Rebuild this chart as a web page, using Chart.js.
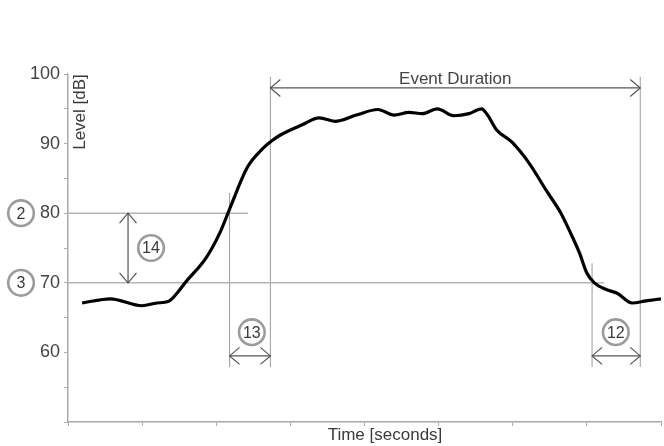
<!DOCTYPE html>
<html>
<head>
<meta charset="utf-8">
<script src="https://cdn.jsdelivr.net/npm/chart.js@4.4.0/dist/chart.umd.min.js"></script>
<style>
  html, body { margin: 0; padding: 0; background: #fff; }
  canvas { display: block; }
</style>
</head>
<body>
<canvas id="myChart" width="664" height="446"></canvas>
<script>
// sound level over time (seconds, dB)
const times = [0.19, 0.57, 1.0, 1.2, 1.35, 1.47, 1.58, 1.87, 2.05, 2.18, 2.42, 2.61, 2.75, 2.86, 3.16, 3.39, 3.6, 3.89, 4.18, 4.4, 4.6, 4.78, 4.98, 5.21, 5.41, 5.58, 5.66, 5.78, 5.99, 6.22, 6.45, 6.65, 6.76, 6.9, 7.0, 7.1, 7.27, 7.41, 7.61, 7.8, 8.0];
const levels = [67.1, 67.7, 66.7, 67.1, 67.3, 68.5, 70.0, 73.7, 77.2, 80.6, 86.6, 89.1, 90.4, 91.2, 92.7, 93.7, 93.2, 94.1, 94.9, 94.1, 94.5, 94.3, 95.0, 94.0, 94.3, 95.0, 94.1, 92.0, 90.2, 87.2, 83.3, 80.0, 77.6, 74.3, 71.4, 70.0, 69.0, 68.5, 67.1, 67.4, 67.7];

const yTicks = [60, 70, 80, 90, 100];

// threshold lines: level, end time
const thresholds = [80, 70];
const thresholdEnds = [2.43, 7.23];
const thresholdTags = ['2', '3'];

// crossing markers: time, top level
const markTimes = [2.18, 2.73, 7.07, 7.72];
const markTops = [82.9, 99.6, 72.8, 99.6];
const markBottom = 57.9;

// event duration arrow
const durationLevel = 98.0;
const durationLabel = 'Event Duration';

// numbered callouts: label, time, level
const calloutLabels = ['14', '13', '12'];
const calloutTimes = [1.12, 2.48, 7.39];
const calloutLevels = [75.0, 62.9, 62.9];
const rangeArrowTime = 0.81;
const spanArrowLevel = 59.5;

const lineSets = [];
lineSets.push({
    data: times.map((t, i) => ({ x: t, y: levels[i] })),
    borderColor: '#000',
    borderWidth: 3.2,
    pointRadius: 0,
    cubicInterpolationMode: 'monotone',
    fill: false
});
thresholds.forEach((lv, i) => {
    lineSets.push({
        data: [{ x: 0, y: lv }, { x: thresholdEnds[i], y: lv }],
        borderColor: '#b4b4b4',
        borderWidth: 1.5,
        pointRadius: 0
    });
});
markTimes.forEach((t, i) => {
    lineSets.push({
        data: [{ x: t, y: markBottom }, { x: t, y: markTops[i] }],
        borderColor: '#9a9aa2',
        borderWidth: 1,
        pointRadius: 0
    });
});

const FONT = "'Liberation Sans', Arial, sans-serif";

function arrowHead(ctx, x, y, dx, dy) {
    // open V head pointing in direction (dx, dy)
    const len = 10, half = 8.5;
    const px = -dy, py = dx;
    ctx.beginPath();
    ctx.moveTo(x - dx * len + px * half, y - dy * len + py * half);
    ctx.lineTo(x, y);
    ctx.lineTo(x - dx * len - px * half, y - dy * len - py * half);
    ctx.stroke();
}

function circleTag(ctx, x, y, txt) {
    ctx.save();
    ctx.beginPath();
    ctx.arc(x, y, 12.8, 0, Math.PI * 2);
    ctx.fillStyle = '#fff';
    ctx.fill();
    ctx.lineWidth = 2.6;
    ctx.strokeStyle = '#9b9b9b';
    ctx.stroke();
    ctx.fillStyle = '#3a3a3a';
    ctx.font = '16px ' + FONT;
    ctx.textAlign = 'center';
    ctx.textBaseline = 'middle';
    ctx.fillText(txt, x, y + 1);
    ctx.restore();
}

const annotations = {
    id: 'annotations',
    afterDatasetsDraw(chart) {
        const ctx = chart.ctx;
        const xs = chart.scales.x, ys = chart.scales.y;
        ctx.save();
        ctx.strokeStyle = '#555';
        ctx.lineWidth = 1.2;

        // event duration
        const dy = ys.getPixelForValue(durationLevel);
        const dx1 = xs.getPixelForValue(markTimes[1]);
        const dx2 = xs.getPixelForValue(markTimes[3]);
        ctx.beginPath();
        ctx.moveTo(dx1, dy);
        ctx.lineTo(dx2, dy);
        ctx.stroke();
        arrowHead(ctx, dx1, dy, -1, 0);
        arrowHead(ctx, dx2, dy, 1, 0);
        ctx.fillStyle = '#444';
        ctx.font = '17px ' + FONT;
        ctx.textAlign = 'center';
        ctx.textBaseline = 'bottom';
        ctx.fillText(durationLabel, (dx1 + dx2) / 2, dy);

        // level range arrow (14)
        const rx = xs.getPixelForValue(rangeArrowTime);
        const ry1 = ys.getPixelForValue(thresholds[0]);
        const ry2 = ys.getPixelForValue(thresholds[1]);
        ctx.beginPath();
        ctx.moveTo(rx, ry1);
        ctx.lineTo(rx, ry2);
        ctx.stroke();
        arrowHead(ctx, rx, ry1, 0, -1);
        arrowHead(ctx, rx, ry2, 0, 1);

        // time span arrows (13, 12)
        const sy = ys.getPixelForValue(spanArrowLevel);
        [[0, 1], [2, 3]].forEach(([a, b]) => {
            const x1 = xs.getPixelForValue(markTimes[a]);
            const x2 = xs.getPixelForValue(markTimes[b]);
            ctx.beginPath();
            ctx.moveTo(x1, sy);
            ctx.lineTo(x2, sy);
            ctx.stroke();
            arrowHead(ctx, x1, sy, -1, 0);
            arrowHead(ctx, x2, sy, 1, 0);
        });

        calloutLabels.forEach((lb, i) => {
            circleTag(ctx, xs.getPixelForValue(calloutTimes[i]), ys.getPixelForValue(calloutLevels[i]), lb);
        });
        thresholds.forEach((lv, i) => {
            circleTag(ctx, 21, ys.getPixelForValue(lv), thresholdTags[i]);
        });

        // axis titles
        ctx.fillStyle = '#3a3a3a';
        ctx.font = '17px ' + FONT;
        ctx.textAlign = 'center';
        ctx.textBaseline = 'middle';
        ctx.fillText('Time [seconds]', 385, 435);
        ctx.translate(80, 112);
        ctx.rotate(-Math.PI / 2);
        ctx.fillText('Level [dB]', 0, 0);
        ctx.restore();
    }
};

const ctx = document.getElementById('myChart').getContext('2d');
const myChart = new Chart(ctx, {
    type: 'line',
    data: { datasets: lineSets },
    plugins: [annotations],
    options: {
        responsive: false,
        animation: false,
        layout: { padding: { top: 74, right: 2, left: 0, bottom: 0 } },
        plugins: { legend: { display: false }, tooltip: { enabled: false } },
        scales: {
            x: {
                type: 'linear',
                min: 0,
                max: 8,
                afterFit: s => { s.height = 24; },
                border: { color: '#aaa', width: 1.5 },
                grid: { drawOnChartArea: false, tickLength: 4, color: '#aaa' },
                ticks: { stepSize: 1, callback: () => '' }
            },
            y: {
                min: 50,
                max: 100,
                afterFit: s => { s.width = 68; },
                afterBuildTicks: s => { s.ticks = [50, 55, 60, 65, 70, 75, 80, 85, 90, 95, 100].map(v => ({ value: v })); },
                border: { color: '#aaa', width: 1.5 },
                grid: { drawOnChartArea: false, tickLength: 4, color: '#aaa' },
                ticks: {
                    padding: 4,
                    color: '#444',
                    font: { family: FONT, size: 18 },
                    callback: v => yTicks.includes(v) ? String(v) : ''
                }
            }
        }
    }
});
</script>
</body>
</html>
